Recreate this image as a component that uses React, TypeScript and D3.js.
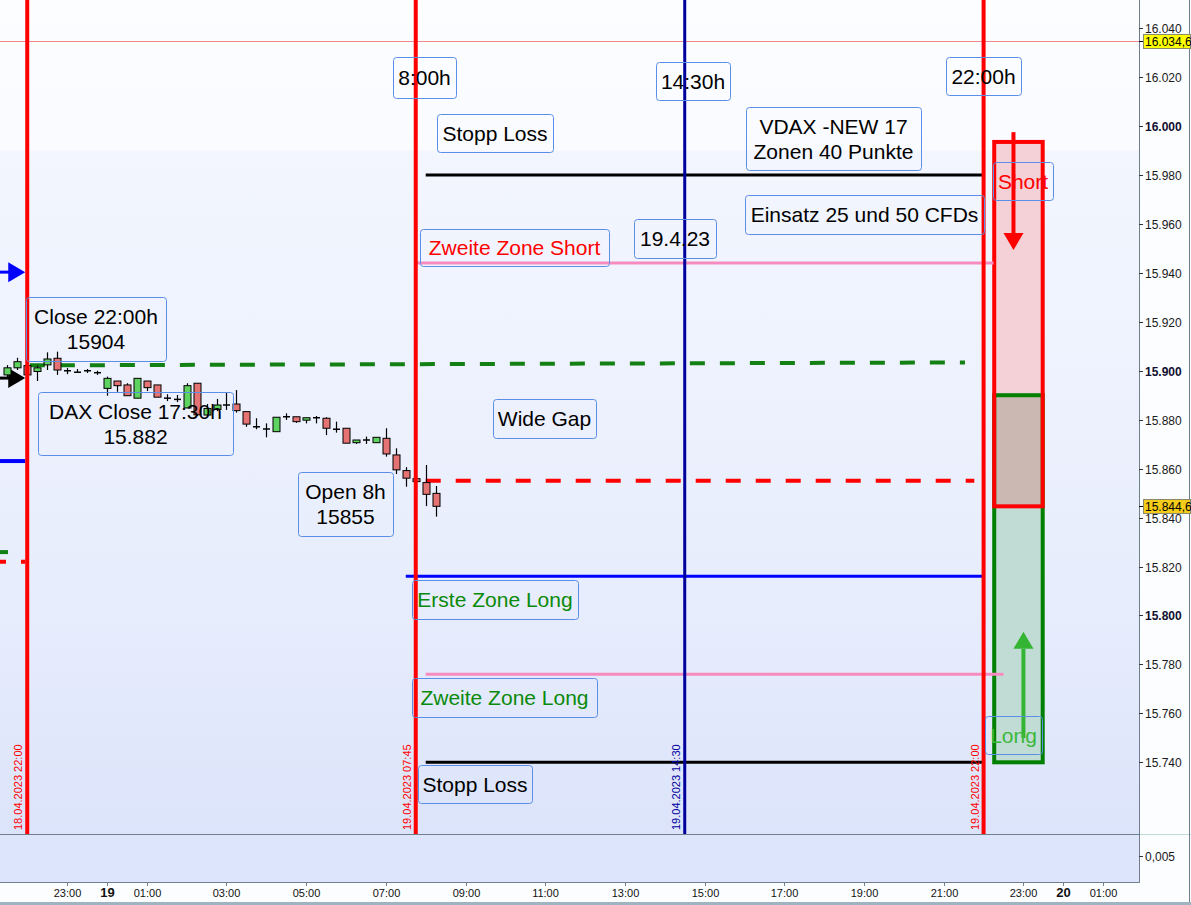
import { useEffect, useRef } from "react";
import * as d3 from "d3";

// 15-Minuten-Kerzen DAX, 18.04. 21:30 bis 19.04. 08:15
const candleTimes = [
  "2023-04-18 21:30", "2023-04-18 21:45", "2023-04-18 22:00", "2023-04-18 22:15",
  "2023-04-18 22:30", "2023-04-18 22:45", "2023-04-18 23:00", "2023-04-18 23:15",
  "2023-04-18 23:30", "2023-04-18 23:45", "2023-04-19 00:00", "2023-04-19 00:15",
  "2023-04-19 00:30", "2023-04-19 00:45", "2023-04-19 01:00", "2023-04-19 01:15",
  "2023-04-19 01:30", "2023-04-19 01:45", "2023-04-19 02:00", "2023-04-19 02:15",
  "2023-04-19 02:30", "2023-04-19 02:45", "2023-04-19 03:00", "2023-04-19 03:15",
  "2023-04-19 03:30", "2023-04-19 03:45", "2023-04-19 04:00", "2023-04-19 04:15",
  "2023-04-19 04:30", "2023-04-19 04:45", "2023-04-19 05:00", "2023-04-19 05:15",
  "2023-04-19 05:30", "2023-04-19 05:45", "2023-04-19 06:00", "2023-04-19 06:15",
  "2023-04-19 06:30", "2023-04-19 06:45", "2023-04-19 07:00", "2023-04-19 07:15",
  "2023-04-19 07:30", "2023-04-19 07:45", "2023-04-19 08:00", "2023-04-19 08:15",
];
const opens = [
  15898.3, 15901.2, 15902.1, 15899.7, 15902.4, 15905.1, 15900.0, 15899.4, 15900.0, 15899.2,
  15892.8, 15895.8, 15894.2, 15888.8, 15895.8, 15894.2, 15888.8, 15888.3, 15884.8, 15894.9,
  15881.9, 15884.2, 15886.0, 15886.4, 15883.3, 15877.1, 15876.2, 15875.1, 15881.2, 15881.2,
  15879.8, 15880.8, 15880.6, 15876.1, 15876.5, 15870.6, 15871.7, 15870.6, 15872.4, 15865.6,
  15859.2, 15855.9, 15854.3, 15849.9,
];
const highs = [
  15902.3, 15905.3, 15903.0, 15902.1, 15907.5, 15907.8, 15901.1, 15900.7, 15900.7, 15900.0,
  15897.6, 15895.8, 15894.9, 15896.9, 15895.8, 15894.2, 15890.4, 15890.1, 15894.9, 15894.9,
  15886.4, 15888.5, 15890.9, 15892.1, 15883.3, 15880.6, 15878.5, 15881.0, 15882.6, 15881.2,
  15880.8, 15881.5, 15881.0, 15879.2, 15876.5, 15871.7, 15873.1, 15872.8, 15876.5, 15868.3,
  15860.6, 15857.0, 15861.5, 15852.9,
];
const lows = [
  15897.4, 15900.3, 15897.5, 15895.8, 15900.3, 15898.3, 15898.6, 15899.4, 15899.1, 15898.3,
  15889.8, 15891.4, 15889.8, 15888.8, 15891.7, 15889.2, 15887.6, 15887.2, 15884.8, 15881.5,
  15881.2, 15883.5, 15884.0, 15882.9, 15877.1, 15876.1, 15872.8, 15875.1, 15879.9, 15878.7,
  15878.5, 15878.5, 15873.7, 15874.7, 15870.4, 15870.1, 15870.1, 15870.6, 15864.9, 15857.8,
  15852.6, 15854.1, 15844.7, 15840.4,
];
const closes = [
  15901.2, 15903.7, 15898.3, 15901.2, 15904.8, 15900.3, 15900.0, 15899.4, 15900.0, 15899.2,
  15896.9, 15893.9, 15889.8, 15896.9, 15893.1, 15889.2, 15888.8, 15888.3, 15893.9, 15882.0,
  15884.6, 15886.0, 15886.0, 15883.7, 15878.2, 15877.1, 15876.2, 15881.0, 15881.2, 15879.2,
  15880.8, 15880.8, 15876.5, 15876.1, 15870.4, 15871.7, 15871.7, 15872.8, 15866.0, 15859.5,
  15856.1, 15854.7, 15849.5, 15844.6,
];

// Zeitmarken (senkrechte Linien)
const markerTimes = ["2023-04-18 22:00", "2023-04-19 07:45", "2023-04-19 14:30", "2023-04-19 22:00"];
const markerLabels = ["18.04.2023 22:00", "19.04.2023 07:45", "19.04.2023 14:30", "19.04.2023 22:00"];
const markerColors = ["#ff0000", "#ff0000", "#00009c", "#ff0000"];

// Horizontale Linien
const levelNames = ["Stopp Loss", "Zweite Zone Short", "Close 22:00h", "Open 8h", "Erste Zone Long", "Zweite Zone Long", "Stopp Loss"];
const levelFrom = ["2023-04-19 08:00", "2023-04-19 07:45", "2023-04-18 22:04", "2023-04-19 08:00", "2023-04-19 07:30", "2023-04-19 08:00", "2023-04-19 08:00"];
const levelTo = ["2023-04-19 22:00", "2023-04-19 22:15", "2023-04-19 21:32", "2023-04-19 21:46", "2023-04-19 22:00", "2023-04-19 22:30", "2023-04-19 22:00"];
const levelStart = [15980, 15944, 15902.2, 15855, 15816, 15776, 15740];
const levelEnd = [15980, 15944, 15903.4, 15855, 15816, 15776, 15740];
const levelColors = ["#000000", "#f78bbf", "#138013", "#ff0000", "#0000ff", "#f78bbf", "#000000"];
const levelDashed = [false, false, true, true, false, false, false];

// Zonen (Short oben, Long unten)
const zoneFrom = "2023-04-19 22:16";
const zoneTo = "2023-04-19 23:29";
const shortZone = [15993.5, 15844.6];
const longZone = [15890, 15740];
const shortArrow = [15997.5, 15949.3];
const longArrow = [15749.9, 15793.3];
const shortArrowTime = "2023-04-19 22:45";
const longArrowTime = "2023-04-19 23:00";

// Reste vom Vortag am linken Rand
const leftArrows = [15940.3, 15897];
const leftArrowColors = ["#0000ff", "#000000"];
const leftLine = 15863.1;
const leftGreenDash = 15825.9;
const leftRedDash = 15821.9;

// Achsen
const priceTicks = [15740, 15760, 15780, 15800, 15820, 15840, 15860, 15880, 15900, 15920, 15940, 15960, 15980, 16000, 16020, 16040];
const hourTicks = [
  "2023-04-18 23:00", "2023-04-19 00:00", "2023-04-19 01:00", "2023-04-19 03:00", "2023-04-19 05:00",
  "2023-04-19 07:00", "2023-04-19 09:00", "2023-04-19 11:00", "2023-04-19 13:00", "2023-04-19 15:00",
  "2023-04-19 17:00", "2023-04-19 19:00", "2023-04-19 21:00", "2023-04-19 23:00", "2023-04-20 00:00",
  "2023-04-20 01:00",
];
const lastPriceHigh = 16034.6;
const lastPrice = 15844.6;

// Beschriftungen (Zeichenwerkzeug-Textboxen)
const notes = [
  { lines: ["8:00h"], x: 393, y: 57, w: 63, h: 41, color: "#000" },
  { lines: ["14:30h"], x: 656, y: 62, w: 74, h: 38, color: "#000" },
  { lines: ["22:00h"], x: 946, y: 57, w: 75, h: 38, color: "#000" },
  { lines: ["Stopp Loss"], x: 437, y: 114, w: 116, h: 38, color: "#000" },
  { lines: ["VDAX -NEW 17", "Zonen 40 Punkte"], x: 746, y: 107, w: 175, h: 63, color: "#000" },
  { lines: ["Einsatz 25 und 50 CFDs"], x: 745, y: 195, w: 239, h: 39, color: "#000" },
  { lines: ["Zweite Zone Short"], x: 420, y: 229, w: 189, h: 37, color: "#ff0000" },
  { lines: ["19.4.23"], x: 634, y: 219, w: 82, h: 39, color: "#000" },
  { lines: ["Close 22:00h", "15904"], x: 26, y: 297, w: 140, h: 64, color: "#000" },
  { lines: ["DAX Close 17:30h", "15.882"], x: 38, y: 392, w: 195, h: 63, color: "#000" },
  { lines: ["Wide Gap"], x: 493, y: 399, w: 103, h: 39, color: "#000" },
  { lines: ["Open 8h", "15855"], x: 298, y: 472, w: 95, h: 64, color: "#000" },
  { lines: ["Erste Zone Long"], x: 412, y: 580, w: 166, h: 39, color: "#0a8a0a" },
  { lines: ["Zweite Zone Long"], x: 412, y: 678, w: 185, h: 39, color: "#0a8a0a" },
  { lines: ["Stopp Loss"], x: 418, y: 765, w: 114, h: 38, color: "#000" },
  { lines: ["Short"], x: 993, y: 162, w: 60, h: 38, color: "#ff0000" },
  { lines: ["Long"], x: 985, y: 716, w: 57, h: 38, color: "#3cb83c" },
];

const WIDTH = 1191;
const HEIGHT = 905;
const FONT = "'Liberation Sans', Arial, sans-serif";

export default function App() {
  const svgRef = useRef<SVGSVGElement>(null);

  useEffect(() => {
    if (!svgRef.current) return;
    const svg = d3.select(svgRef.current);
    svg.selectAll("*").remove();

    const parse = d3.timeParse("%Y-%m-%d %H:%M");
    const t = (s: string) => parse(s) as Date;
    const de = d3.formatLocale({ decimal: ",", thousands: ".", grouping: [3], currency: ["", "€"] });

    const plotRight = 1139;
    const plotBottom = 834;
    const panelBottom = 882;

    const x = d3
      .scaleTime()
      .domain([new Date(2023, 3, 18, 21, 19), new Date(2023, 3, 20, 1, 54)])
      .range([0, plotRight]);
    const y = d3.scaleLinear().domain([15710.7, 16051.5]).range([plotBottom, 0]);

    const defs = svg.append("defs");
    const grad = defs
      .append("linearGradient")
      .attr("id", "bg")
      .attr("x1", "0%")
      .attr("y1", "0%")
      .attr("x2", "0%")
      .attr("y2", "100%");
    [
      [0, "#fcfdff"],
      [0.18, "#fafbff"],
      [0.181, "#f3f6fe"],
      [0.45, "#eef2fe"],
      [0.75, "#e6ecfc"],
      [1, "#dce4fb"],
    ].forEach(([o, c]) => grad.append("stop").attr("offset", o as number).attr("stop-color", c as string));
    defs
      .append("clipPath")
      .attr("id", "plot")
      .append("rect")
      .attr("width", plotRight)
      .attr("height", plotBottom);

    // Hintergrund
    svg.append("rect").attr("width", WIDTH).attr("height", HEIGHT).attr("fill", "#fcfdff");
    svg.append("rect").attr("width", plotRight).attr("height", plotBottom).attr("fill", "url(#bg)");
    svg
      .append("rect")
      .attr("y", plotBottom)
      .attr("width", plotRight)
      .attr("height", panelBottom - plotBottom)
      .attr("fill", "#dce5fc");
    svg.append("rect").attr("y", 902).attr("width", WIDTH).attr("height", 3).attr("fill", "#9fb4c1");

    const g = svg.append("g").attr("clip-path", "url(#plot)");

    // Letzter Kurs oben (dünne Linie)
    g.append("line")
      .attr("x1", 0)
      .attr("x2", plotRight)
      .attr("y1", Math.round(y(lastPriceHigh)) + 0.5)
      .attr("y2", Math.round(y(lastPriceHigh)) + 0.5)
      .attr("stroke", "#ee8a8a")
      .attr("stroke-width", 1);

    // Zonen
    const zx0 = x(t(zoneFrom));
    const zx1 = x(t(zoneTo));
    g.append("rect")
      .attr("x", zx0)
      .attr("y", y(shortZone[0]))
      .attr("width", zx1 - zx0)
      .attr("height", y(shortZone[1]) - y(shortZone[0]))
      .attr("fill", "#f3d1d7");
    g.append("rect")
      .attr("x", zx0)
      .attr("y", y(longZone[0]))
      .attr("width", zx1 - zx0)
      .attr("height", y(longZone[1]) - y(longZone[0]))
      .attr("fill", "#c1dcd5");
    g.append("rect")
      .attr("x", zx0)
      .attr("y", y(longZone[0]))
      .attr("width", zx1 - zx0)
      .attr("height", y(shortZone[1]) - y(longZone[0]))
      .attr("fill", "#ccb8b2");
    g.append("rect")
      .attr("x", zx0)
      .attr("y", y(longZone[0]))
      .attr("width", zx1 - zx0)
      .attr("height", y(longZone[1]) - y(longZone[0]))
      .attr("fill", "none")
      .attr("stroke", "#008000")
      .attr("stroke-width", 4);
    g.append("rect")
      .attr("x", zx0)
      .attr("y", y(shortZone[0]))
      .attr("width", zx1 - zx0)
      .attr("height", y(shortZone[1]) - y(shortZone[0]))
      .attr("fill", "none")
      .attr("stroke", "#ff0000")
      .attr("stroke-width", 4);

    // Pfeile in den Zonen
    const arrow = (xp: number, ya: number, yb: number, color: string) => {
      const dir = yb > ya ? 1 : -1;
      const headLen = 17;
      g.append("line")
        .attr("x1", xp)
        .attr("x2", xp)
        .attr("y1", ya)
        .attr("y2", yb - dir * headLen)
        .attr("stroke", color)
        .attr("stroke-width", 4);
      g.append("path")
        .attr("d", `M${xp - 10},${yb - dir * headLen}L${xp + 10},${yb - dir * headLen}L${xp},${yb}Z`)
        .attr("fill", color);
    };
    arrow(x(t(shortArrowTime)), y(shortArrow[0]), y(shortArrow[1]), "#ff0000");
    arrow(x(t(longArrowTime)), y(longArrow[0]), y(longArrow[1]), "#33b533");

    // Horizontale Linien
    levelNames.forEach((_n, i) => {
      g.append("line")
        .attr("x1", x(t(levelFrom[i])))
        .attr("x2", x(t(levelTo[i])))
        .attr("y1", y(levelStart[i]))
        .attr("y2", y(levelEnd[i]))
        .attr("stroke", levelColors[i])
        .attr("stroke-width", levelDashed[i] ? 4 : 3)
        .attr("stroke-dasharray", levelDashed[i] ? "15,15" : null);
    });

    // Linker Rand: Pfeile und Linien vom Vortag
    const xEdge = x(t(markerTimes[0])) - 2;
    leftArrows.forEach((v, i) => {
      const yy = y(v);
      g.append("line")
        .attr("x1", 0)
        .attr("x2", xEdge - 14)
        .attr("y1", yy)
        .attr("y2", yy)
        .attr("stroke", leftArrowColors[i])
        .attr("stroke-width", 3);
      g.append("path")
        .attr("d", `M${xEdge - 17},${yy - 10}L${xEdge},${yy}L${xEdge - 17},${yy + 10}Z`)
        .attr("fill", leftArrowColors[i]);
    });
    g.append("line")
      .attr("x1", 0)
      .attr("x2", xEdge)
      .attr("y1", y(leftLine))
      .attr("y2", y(leftLine))
      .attr("stroke", "#0000ff")
      .attr("stroke-width", 4);
    g.append("line")
      .attr("x1", 0)
      .attr("x2", 8)
      .attr("y1", y(leftGreenDash))
      .attr("y2", y(leftGreenDash))
      .attr("stroke", "#138013")
      .attr("stroke-width", 4);
    g.append("line")
      .attr("x1", -9)
      .attr("x2", xEdge)
      .attr("y1", y(leftRedDash))
      .attr("y2", y(leftRedDash))
      .attr("stroke", "#ff0000")
      .attr("stroke-width", 4)
      .attr("stroke-dasharray", "15,15");

    // Kerzen
    const candles = candleTimes.map((s, i) => ({
      time: t(s),
      o: opens[i],
      h: highs[i],
      l: lows[i],
      c: closes[i],
    }));
    const bodyW = 7;
    const cg = g.append("g");
    candles.forEach((d) => {
      const cx = Math.round(x(d.time)) + 0.5;
      cg.append("line")
        .attr("x1", cx)
        .attr("x2", cx)
        .attr("y1", y(d.h))
        .attr("y2", y(d.l))
        .attr("stroke", "#000")
        .attr("stroke-width", 1.2);
      const top = y(Math.max(d.o, d.c));
      const bot = y(Math.min(d.o, d.c));
      if (bot - top < 1) {
        cg.append("line")
          .attr("x1", cx - bodyW / 2)
          .attr("x2", cx + bodyW / 2)
          .attr("y1", top)
          .attr("y2", top)
          .attr("stroke", "#000")
          .attr("stroke-width", 1.5);
      } else {
        cg.append("rect")
          .attr("x", cx - bodyW / 2)
          .attr("y", top)
          .attr("width", bodyW)
          .attr("height", bot - top)
          .attr("fill", d.c >= d.o ? "#5fd35f" : "#e57373")
          .attr("stroke", "#000")
          .attr("stroke-width", 1);
      }
    });

    // Senkrechte Zeitmarken
    markerTimes.forEach((s, i) => {
      const xm = x(t(s));
      g.append("line")
        .attr("x1", xm)
        .attr("x2", xm)
        .attr("y1", 0)
        .attr("y2", plotBottom)
        .attr("stroke", markerColors[i])
        .attr("stroke-width", markerColors[i] === "#ff0000" ? 4 : 3);
      g.append("text")
        .attr("transform", `translate(${xm - 5},${plotBottom - 4}) rotate(-90)`)
        .attr("font-family", FONT)
        .attr("font-size", 11)
        .attr("fill", markerColors[i])
        .text(markerLabels[i]);
    });

    // Textboxen
    notes.forEach((n) => {
      g.append("rect")
        .attr("x", n.x + 0.5)
        .attr("y", n.y + 0.5)
        .attr("width", n.w)
        .attr("height", n.h)
        .attr("rx", 3)
        .attr("fill", "none")
        .attr("stroke", "#5b8ee6")
        .attr("stroke-width", 1);
      const base = n.y + n.h / 2 - ((n.lines.length - 1) * 25) / 2 + 7.5;
      const txt = g
        .append("text")
        .attr("font-family", FONT)
        .attr("font-size", 21)
        .attr("fill", n.color)
        .attr("text-anchor", "middle");
      n.lines.forEach((line, j) => {
        txt
          .append("tspan")
          .attr("x", n.x + n.w / 2)
          .attr("y", base + j * 25)
          .text(line);
      });
    });

    // Rahmen & Achsen
    const axisColor = "#6f7f8b";
    svg
      .append("line")
      .attr("x1", 0)
      .attr("x2", plotRight)
      .attr("y1", plotBottom + 0.5)
      .attr("y2", plotBottom + 0.5)
      .attr("stroke", axisColor);
    svg
      .append("line")
      .attr("x1", plotRight)
      .attr("x2", WIDTH)
      .attr("y1", plotBottom + 0.5)
      .attr("y2", plotBottom + 0.5)
      .attr("stroke", "#bfdcd6");
    svg
      .append("line")
      .attr("x1", 0)
      .attr("x2", plotRight + 0.5)
      .attr("y1", panelBottom + 0.5)
      .attr("y2", panelBottom + 0.5)
      .attr("stroke", axisColor);
    svg
      .append("line")
      .attr("x1", plotRight + 0.5)
      .attr("x2", plotRight + 0.5)
      .attr("y1", 0)
      .attr("y2", panelBottom + 0.5)
      .attr("stroke", axisColor);
    svg
      .append("line")
      .attr("x1", 1189.5)
      .attr("x2", 1189.5)
      .attr("y1", 0)
      .attr("y2", 902)
      .attr("stroke", axisColor);

    // Preisachse rechts
    const yAxis = svg.append("g");
    priceTicks.forEach((v) => {
      const yy = Math.round(y(v)) + 0.5;
      yAxis
        .append("line")
        .attr("x1", plotRight)
        .attr("x2", plotRight + 4)
        .attr("y1", yy)
        .attr("y2", yy)
        .attr("stroke", "#333");
      yAxis
        .append("text")
        .attr("x", plotRight + 6)
        .attr("y", yy)
        .attr("dy", "0.35em")
        .attr("font-family", FONT)
        .attr("font-size", 12)
        .attr("font-weight", v % 100 === 0 ? "bold" : "normal")
        .attr("fill", v % 100 === 0 ? "#101030" : "#1a1a1a")
        .text(de.format(",.0f")(v));
    });

    // Kursmarken (gelb)
    const priceTag = (v: number, fill: string) => {
      const yy = Math.round(y(v)) + 0.5;
      yAxis
        .append("line")
        .attr("x1", plotRight)
        .attr("x2", plotRight + 5)
        .attr("y1", yy)
        .attr("y2", yy)
        .attr("stroke", "#000");
      yAxis
        .append("rect")
        .attr("x", plotRight + 4.5)
        .attr("y", yy - 7)
        .attr("width", 47)
        .attr("height", 14)
        .attr("fill", fill)
        .attr("stroke", "#8a8a6a")
        .attr("stroke-width", 1);
      yAxis
        .append("text")
        .attr("x", plotRight + 6)
        .attr("y", yy)
        .attr("dy", "0.35em")
        .attr("font-family", FONT)
        .attr("font-size", 12)
        .attr("fill", "#000")
        .text(de.format(",.1f")(v));
    };
    priceTag(lastPriceHigh, "#ffff00");
    priceTag(lastPrice, "#f5cc1a");

    // Unteres Panel Achse
    const panelTickY = 856.5;
    svg
      .append("line")
      .attr("x1", plotRight)
      .attr("x2", plotRight + 4)
      .attr("y1", panelTickY)
      .attr("y2", panelTickY)
      .attr("stroke", "#333");
    svg
      .append("text")
      .attr("x", plotRight + 6)
      .attr("y", panelTickY)
      .attr("dy", "0.35em")
      .attr("font-family", FONT)
      .attr("font-size", 12)
      .attr("fill", "#1a1a1a")
      .text(de.format(".3f")(0.005));

    // Zeitachse unten
    const xAxis = svg.append("g");
    hourTicks.forEach((s) => {
      const d = t(s);
      const xx = Math.round(x(d)) + 0.5;
      const isDay = d.getHours() === 0;
      xAxis
        .append("line")
        .attr("x1", xx)
        .attr("x2", xx)
        .attr("y1", panelBottom)
        .attr("y2", panelBottom + 4)
        .attr("stroke", axisColor);
      xAxis
        .append("text")
        .attr("x", xx)
        .attr("y", 897)
        .attr("text-anchor", "middle")
        .attr("font-family", FONT)
        .attr("font-size", isDay ? 13 : 11)
        .attr("font-weight", isDay ? "bold" : "normal")
        .attr("fill", "#111")
        .text(isDay ? d3.timeFormat("%-d")(d) : d3.timeFormat("%H:%M")(d));
    });
  }, []);

  return (
    <svg
      ref={svgRef}
      width={WIDTH}
      height={HEIGHT}
      viewBox={`0 0 ${WIDTH} ${HEIGHT}`}
      style={{ position: "absolute", left: 0, top: 0, display: "block" }}
    />
  );
}
